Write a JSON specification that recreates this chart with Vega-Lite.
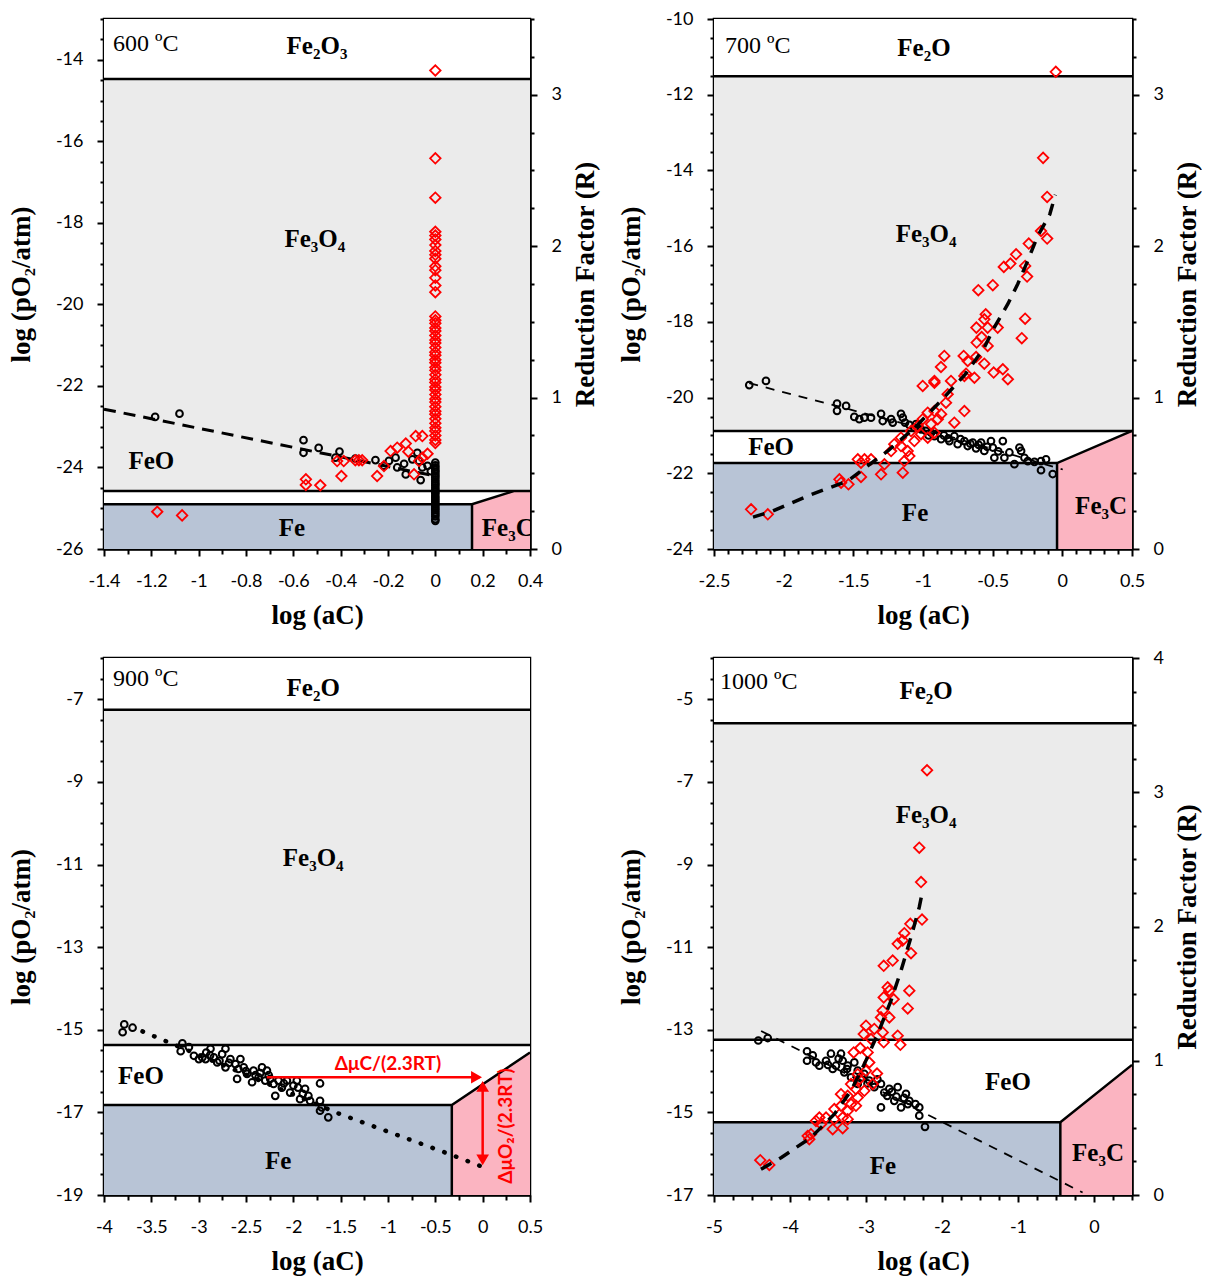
{
"$schema": "https://vega.github.io/schema/vega-lite/v6.json",
"background": "white",
"padding": {"left": 6, "top": 8, "right": 0, "bottom": 0},
"columns": 2,
"spacing": {"row": 109, "column": 184},
"bounds": "flush",
"datasets": {
"regions": [
{"p":1,"phase":"Fe2O3","x":-1.4,"x2":0.4,"y":-14.47,"y2":-13},
{"p":1,"phase":"Fe3O4","x":-1.4,"x2":0.4,"y":-24.58,"y2":-14.47},
{"p":1,"phase":"FeO","x":-1.4,"x2":0.4,"y":-26,"y2":-24.58},
{"p":1,"phase":"Fe","x":-1.4,"x2":0.155,"y":-26,"y2":-24.9},
{"p":2,"phase":"Fe2O3","x":-2.5,"x2":0.5,"y":-11.51,"y2":-10},
{"p":2,"phase":"Fe3O4","x":-2.5,"x2":0.5,"y":-20.88,"y2":-11.51},
{"p":2,"phase":"FeO","x":-2.5,"x2":0.5,"y":-24,"y2":-20.88},
{"p":2,"phase":"Fe","x":-2.5,"x2":-0.038,"y":-24,"y2":-21.73},
{"p":3,"phase":"Fe2O3","x":-4,"x2":0.5,"y":-7.25,"y2":-6},
{"p":3,"phase":"Fe3O4","x":-4,"x2":0.5,"y":-15.37,"y2":-7.25},
{"p":3,"phase":"FeO","x":-4,"x2":0.5,"y":-19,"y2":-15.37},
{"p":3,"phase":"Fe","x":-4,"x2":-0.326,"y":-19,"y2":-16.82},
{"p":4,"phase":"Fe2O3","x":-5,"x2":0.5,"y":-5.58,"y2":-4},
{"p":4,"phase":"Fe3O4","x":-5,"x2":0.5,"y":-13.24,"y2":-5.58},
{"p":4,"phase":"FeO","x":-5,"x2":0.5,"y":-17,"y2":-13.24},
{"p":4,"phase":"Fe","x":-5,"x2":-0.443,"y":-17,"y2":-15.24}
],
"fe3c": [
{"p":1,"x":0.155,"y":-24.9,"y2":-26},{"p":1,"x":0.33,"y":-24.58,"y2":-26},{"p":1,"x":0.4,"y":-24.58,"y2":-26},
{"p":2,"x":-0.038,"y":-21.73,"y2":-24},{"p":2,"x":0.5,"y":-20.88,"y2":-24},
{"p":3,"x":-0.326,"y":-16.82,"y2":-19},{"p":3,"x":0.5,"y":-15.55,"y2":-19},
{"p":4,"x":-0.443,"y":-15.24,"y2":-17},{"p":4,"x":0.5,"y":-13.85,"y2":-17}
],
"bounds": [
{"p":1,"seg":"a","o":1,"x":-1.4,"y":-14.47},{"p":1,"seg":"a","o":2,"x":0.4,"y":-14.47},
{"p":1,"seg":"b","o":1,"x":-1.4,"y":-24.58},{"p":1,"seg":"b","o":2,"x":0.4,"y":-24.58},
{"p":1,"seg":"c","o":1,"x":-1.4,"y":-24.9},{"p":1,"seg":"c","o":2,"x":0.155,"y":-24.9},{"p":1,"seg":"c","o":3,"x":0.33,"y":-24.58},
{"p":1,"seg":"d","o":1,"x":0.155,"y":-26},{"p":1,"seg":"d","o":2,"x":0.155,"y":-24.9},
{"p":2,"seg":"a","o":1,"x":-2.5,"y":-11.51},{"p":2,"seg":"a","o":2,"x":0.5,"y":-11.51},
{"p":2,"seg":"b","o":1,"x":-2.5,"y":-20.88},{"p":2,"seg":"b","o":2,"x":0.5,"y":-20.88},
{"p":2,"seg":"c","o":1,"x":-2.5,"y":-21.73},{"p":2,"seg":"c","o":2,"x":-0.038,"y":-21.73},{"p":2,"seg":"c","o":3,"x":0.5,"y":-20.88},
{"p":2,"seg":"d","o":1,"x":-0.038,"y":-24},{"p":2,"seg":"d","o":2,"x":-0.038,"y":-21.73},
{"p":3,"seg":"a","o":1,"x":-4,"y":-7.25},{"p":3,"seg":"a","o":2,"x":0.5,"y":-7.25},
{"p":3,"seg":"b","o":1,"x":-4,"y":-15.37},{"p":3,"seg":"b","o":2,"x":0.5,"y":-15.37},
{"p":3,"seg":"c","o":1,"x":-4,"y":-16.82},{"p":3,"seg":"c","o":2,"x":-0.326,"y":-16.82},{"p":3,"seg":"c","o":3,"x":0.5,"y":-15.55},
{"p":3,"seg":"d","o":1,"x":-0.326,"y":-19},{"p":3,"seg":"d","o":2,"x":-0.326,"y":-16.82},
{"p":4,"seg":"a","o":1,"x":-5,"y":-5.58},{"p":4,"seg":"a","o":2,"x":0.5,"y":-5.58},
{"p":4,"seg":"b","o":1,"x":-5,"y":-13.24},{"p":4,"seg":"b","o":2,"x":0.5,"y":-13.24},
{"p":4,"seg":"c","o":1,"x":-5,"y":-15.24},{"p":4,"seg":"c","o":2,"x":-0.443,"y":-15.24},{"p":4,"seg":"c","o":3,"x":0.5,"y":-13.85},
{"p":4,"seg":"d","o":1,"x":-0.443,"y":-17},{"p":4,"seg":"d","o":2,"x":-0.443,"y":-15.24}
],
"labels": [
{"p":1,"k":"phase","t":"Fe₂O₃","x":-0.5,"y":-13.66},
{"p":1,"k":"phase","t":"Fe₃O₄","x":-0.509,"y":-18.4},
{"p":1,"k":"phase","t":"FeO","x":-1.2,"y":-23.84},
{"p":1,"k":"phase","t":"Fe","x":-0.606,"y":-25.48},
{"p":1,"k":"phase","t":"Fe₃C","x":0.306,"y":-25.48},
{"p":1,"k":"temp","t":"600 ºC","x":-1.362,"y":-13.61},
{"p":2,"k":"phase","t":"Fe₂O","x":-0.993,"y":-10.77},
{"p":2,"k":"phase","t":"Fe₃O₄","x":-0.978,"y":-15.68},
{"p":2,"k":"phase","t":"FeO","x":-2.09,"y":-21.31},
{"p":2,"k":"phase","t":"Fe","x":-1.057,"y":-23.05},
{"p":2,"k":"phase","t":"Fe₃C","x":0.278,"y":-22.86},
{"p":2,"k":"temp","t":"700 ºC","x":-2.421,"y":-10.71},
{"p":3,"k":"phase","t":"Fe₂O","x":-1.79,"y":-6.72},
{"p":3,"k":"phase","t":"Fe₃O₄","x":-1.79,"y":-10.84},
{"p":3,"k":"phase","t":"FeO","x":-3.61,"y":-16.11},
{"p":3,"k":"phase","t":"Fe","x":-2.16,"y":-18.17},
{"p":3,"k":"temp","t":"900 ºC","x":-3.905,"y":-6.52},
{"p":4,"k":"phase","t":"Fe₂O","x":-2.21,"y":-4.81},
{"p":4,"k":"phase","t":"Fe₃O₄","x":-2.21,"y":-7.79},
{"p":4,"k":"phase","t":"FeO","x":-1.132,"y":-14.26},
{"p":4,"k":"phase","t":"Fe","x":-2.776,"y":-16.3},
{"p":4,"k":"phase","t":"Fe₃C","x":0.053,"y":-15.98},
{"p":4,"k":"temp","t":"1000 ºC","x":-4.921,"y":-4.59}
],
"fits": [
{"p":1,"x":-1.4,"y":-22.57},{"p":1,"x":0,"y":-24.21},
{"p":2,"x":-2.247,"y":-19.62},{"p":2,"x":-1.0,"y":-20.82},{"p":2,"x":0.003,"y":-21.9},
{"p":3,"x":-3.593,"y":-15.04},{"p":3,"x":-1.508,"y":-17.04},{"p":3,"x":-0.351,"y":-18.01},{"p":3,"x":0,"y":-18.32},
{"p":4,"x":-4.38,"y":-13.03},{"p":4,"x":-0.15,"y":-16.94}
],
"rfits": [
{"p":2,"x":-2.22,"r":0.21},{"p":2,"x":-2.08,"r":0.25},{"p":2,"x":-1.8,"r":0.36},{"p":2,"x":-1.54,"r":0.45},{"p":2,"x":-1.25,"r":0.65},{"p":2,"x":-1.06,"r":0.8},{"p":2,"x":-0.87,"r":0.98},{"p":2,"x":-0.7,"r":1.15},{"p":2,"x":-0.56,"r":1.33},{"p":2,"x":-0.49,"r":1.46},{"p":2,"x":-0.39,"r":1.62},{"p":2,"x":-0.32,"r":1.75},{"p":2,"x":-0.25,"r":1.9},{"p":2,"x":-0.18,"r":2.06},{"p":2,"x":-0.09,"r":2.21},{"p":2,"x":-0.05,"r":2.34},
{"p":4,"x":-4.382,"r":0.192},{"p":4,"x":-4.118,"r":0.278},{"p":4,"x":-3.724,"r":0.428},{"p":4,"x":-3.417,"r":0.602},{"p":4,"x":-3.197,"r":0.776},{"p":4,"x":-3.022,"r":0.975},{"p":4,"x":-2.846,"r":1.199},{"p":4,"x":-2.671,"r":1.448},{"p":4,"x":-2.539,"r":1.672},{"p":4,"x":-2.408,"r":1.92},{"p":4,"x":-2.299,"r":2.144},{"p":4,"x":-2.254,"r":2.269}
],
"black": [
{"p":1,"x":-1.184,"y":-22.76},{"p":1,"x":-1.081,"y":-22.68},{"p":1,"x":-0.557,"y":-23.33},{"p":1,"x":-0.557,"y":-23.64},{"p":1,"x":-0.493,"y":-23.52},{"p":1,"x":-0.405,"y":-23.61},{"p":1,"x":-0.422,"y":-23.76},{"p":1,"x":-0.338,"y":-23.78},{"p":1,"x":-0.253,"y":-23.82},{"p":1,"x":-0.217,"y":-23.96},{"p":1,"x":-0.196,"y":-23.84},{"p":1,"x":-0.168,"y":-23.76},{"p":1,"x":-0.161,"y":-24.0},{"p":1,"x":-0.132,"y":-23.91},{"p":1,"x":-0.125,"y":-24.17},{"p":1,"x":-0.097,"y":-23.8},{"p":1,"x":-0.076,"y":-23.64},{"p":1,"x":-0.069,"y":-23.84},{"p":1,"x":-0.062,"y":-24.31},{"p":1,"x":-0.055,"y":-24.0},{"p":1,"x":-0.033,"y":-23.96},{"p":1,"x":-0.019,"y":-24.09},
{"p":1,"x":0,"y":-23.88},{"p":1,"x":0,"y":-23.95},{"p":1,"x":0,"y":-24.0},{"p":1,"x":0,"y":-24.06},{"p":1,"x":0,"y":-24.1},{"p":1,"x":0,"y":-24.15},{"p":1,"x":0,"y":-24.2},{"p":1,"x":0,"y":-24.24},{"p":1,"x":0,"y":-24.3},{"p":1,"x":0,"y":-24.35},{"p":1,"x":0,"y":-24.4},{"p":1,"x":0,"y":-24.44},{"p":1,"x":0,"y":-24.5},{"p":1,"x":0,"y":-24.55},{"p":1,"x":0,"y":-24.6},{"p":1,"x":0,"y":-24.64},{"p":1,"x":0,"y":-24.7},{"p":1,"x":0,"y":-24.75},{"p":1,"x":0,"y":-24.8},{"p":1,"x":0,"y":-24.85},{"p":1,"x":0,"y":-24.9},{"p":1,"x":0,"y":-24.95},{"p":1,"x":0,"y":-25.0},{"p":1,"x":0,"y":-25.05},{"p":1,"x":0,"y":-25.1},{"p":1,"x":0,"y":-25.15},{"p":1,"x":0,"y":-25.2},{"p":1,"x":0,"y":-25.27},{"p":1,"x":0,"y":-25.31},
{"p":2,"x":-2.247,"y":-19.67},{"p":2,"x":-2.127,"y":-19.56},{"p":2,"x":-1.617,"y":-20.16},{"p":2,"x":-1.617,"y":-20.35},{"p":2,"x":-1.552,"y":-20.22},{"p":2,"x":-1.493,"y":-20.51},{"p":2,"x":-1.457,"y":-20.57},{"p":2,"x":-1.421,"y":-20.53},{"p":2,"x":-1.373,"y":-20.53},{"p":2,"x":-1.301,"y":-20.43},{"p":2,"x":-1.289,"y":-20.62},{"p":2,"x":-1.229,"y":-20.57},{"p":2,"x":-1.217,"y":-20.66},{"p":2,"x":-1.158,"y":-20.43},{"p":2,"x":-1.145,"y":-20.53},{"p":2,"x":-1.129,"y":-20.66},{"p":2,"x":-1.098,"y":-20.72},{"p":2,"x":-1.062,"y":-20.8},{"p":2,"x":-1.014,"y":-20.84},{"p":2,"x":-0.942,"y":-20.93},{"p":2,"x":-0.918,"y":-21.02},{"p":2,"x":-0.87,"y":-21.1},{"p":2,"x":-0.811,"y":-21.15},{"p":2,"x":-0.775,"y":-21.02},{"p":2,"x":-0.751,"y":-21.23},{"p":2,"x":-0.703,"y":-21.15},{"p":2,"x":-0.679,"y":-21.28},{"p":2,"x":-0.643,"y":-21.19},{"p":2,"x":-0.619,"y":-21.34},{"p":2,"x":-0.583,"y":-21.19},{"p":2,"x":-0.56,"y":-21.41},{"p":2,"x":-0.512,"y":-21.15},{"p":2,"x":-0.499,"y":-21.32},{"p":2,"x":-0.488,"y":-21.59},{"p":2,"x":-0.427,"y":-21.15},{"p":2,"x":-0.416,"y":-21.59},{"p":2,"x":-0.344,"y":-21.76},{"p":2,"x":-0.308,"y":-21.32},{"p":2,"x":-0.296,"y":-21.41},{"p":2,"x":-0.272,"y":-21.59},{"p":2,"x":-0.248,"y":-21.68},{"p":2,"x":-0.153,"y":-21.92},{"p":2,"x":-0.153,"y":-21.68},{"p":2,"x":-0.117,"y":-21.63},{"p":2,"x":-0.069,"y":-22.02},{"p":2,"x":-1.05,"y":-20.7},{"p":2,"x":-0.98,"y":-20.88},{"p":2,"x":-0.96,"y":-21.0},{"p":2,"x":-0.85,"y":-21.0},{"p":2,"x":-0.82,"y":-21.08},{"p":2,"x":-0.73,"y":-21.1},{"p":2,"x":-0.66,"y":-21.22},{"p":2,"x":-0.6,"y":-21.25},{"p":2,"x":-0.54,"y":-21.3},{"p":2,"x":-0.46,"y":-21.42},{"p":2,"x":-0.38,"y":-21.45},{"p":2,"x":-0.2,"y":-21.7},
{"p":3,"x":-3.803,"y":-15.06},{"p":3,"x":-3.698,"y":-14.95},{"p":3,"x":-3.786,"y":-14.87},{"p":3,"x":-3.172,"y":-15.33},{"p":3,"x":-3.19,"y":-15.52},{"p":3,"x":-3.103,"y":-15.42},{"p":3,"x":-3.05,"y":-15.63},{"p":3,"x":-2.998,"y":-15.71},{"p":3,"x":-2.962,"y":-15.67},{"p":3,"x":-2.927,"y":-15.71},{"p":3,"x":-2.875,"y":-15.46},{"p":3,"x":-2.84,"y":-15.67},{"p":3,"x":-2.804,"y":-15.79},{"p":3,"x":-2.752,"y":-15.59},{"p":3,"x":-2.717,"y":-15.46},{"p":3,"x":-2.717,"y":-15.91},{"p":3,"x":-2.665,"y":-15.71},{"p":3,"x":-2.612,"y":-15.83},{"p":3,"x":-2.594,"y":-16.19},{"p":3,"x":-2.559,"y":-15.71},{"p":3,"x":-2.524,"y":-15.91},{"p":3,"x":-2.489,"y":-16.07},{"p":3,"x":-2.436,"y":-16.27},{"p":3,"x":-2.42,"y":-15.99},{"p":3,"x":-2.367,"y":-16.15},{"p":3,"x":-2.331,"y":-15.91},{"p":3,"x":-2.297,"y":-16.23},{"p":3,"x":-2.279,"y":-15.99},{"p":3,"x":-2.244,"y":-16.19},{"p":3,"x":-2.209,"y":-16.31},{"p":3,"x":-2.191,"y":-16.6},{"p":3,"x":-2.157,"y":-16.23},{"p":3,"x":-2.121,"y":-16.4},{"p":3,"x":-2.068,"y":-16.23},{"p":3,"x":-2.034,"y":-16.52},{"p":3,"x":-1.999,"y":-16.35},{"p":3,"x":-1.963,"y":-16.23},{"p":3,"x":-1.929,"y":-16.68},{"p":3,"x":-1.876,"y":-16.43},{"p":3,"x":-1.841,"y":-16.6},{"p":3,"x":-1.823,"y":-16.72},{"p":3,"x":-1.718,"y":-16.3},{"p":3,"x":-1.718,"y":-16.72},{"p":3,"x":-1.718,"y":-16.96},{"p":3,"x":-1.7,"y":-16.88},{"p":3,"x":-1.631,"y":-17.12},{"p":3,"x":-2.78,"y":-15.75},{"p":3,"x":-2.68,"y":-15.8},{"p":3,"x":-2.58,"y":-15.95},{"p":3,"x":-2.5,"y":-16.0},{"p":3,"x":-2.4,"y":-16.1},{"p":3,"x":-2.35,"y":-16.05},{"p":3,"x":-2.26,"y":-16.1},{"p":3,"x":-2.1,"y":-16.3},{"p":3,"x":-1.95,"y":-16.4},{"p":3,"x":-1.9,"y":-16.55},{"p":3,"x":-2.92,"y":-15.55},{"p":3,"x":-2.88,"y":-15.62},
{"p":4,"x":-4.417,"y":-13.26},{"p":4,"x":-4.293,"y":-13.2},{"p":4,"x":-3.776,"y":-13.52},{"p":4,"x":-3.776,"y":-13.75},{"p":4,"x":-3.701,"y":-13.62},{"p":4,"x":-3.658,"y":-13.79},{"p":4,"x":-3.614,"y":-13.87},{"p":4,"x":-3.526,"y":-13.75},{"p":4,"x":-3.461,"y":-13.58},{"p":4,"x":-3.438,"y":-13.95},{"p":4,"x":-3.395,"y":-13.87},{"p":4,"x":-3.329,"y":-13.58},{"p":4,"x":-3.307,"y":-13.75},{"p":4,"x":-3.285,"y":-14.03},{"p":4,"x":-3.241,"y":-13.87},{"p":4,"x":-3.197,"y":-14.15},{"p":4,"x":-3.154,"y":-13.79},{"p":4,"x":-3.109,"y":-13.99},{"p":4,"x":-3.109,"y":-14.31},{"p":4,"x":-3.022,"y":-14.07},{"p":4,"x":-2.957,"y":-14.23},{"p":4,"x":-2.891,"y":-14.39},{"p":4,"x":-2.803,"y":-14.31},{"p":4,"x":-2.803,"y":-14.88},{"p":4,"x":-2.759,"y":-14.52},{"p":4,"x":-2.693,"y":-14.43},{"p":4,"x":-2.628,"y":-14.72},{"p":4,"x":-2.583,"y":-14.39},{"p":4,"x":-2.539,"y":-14.88},{"p":4,"x":-2.474,"y":-14.55},{"p":4,"x":-2.43,"y":-14.72},{"p":4,"x":-2.299,"y":-14.88},{"p":4,"x":-2.299,"y":-15.08},{"p":4,"x":-2.224,"y":-15.35},{"p":4,"x":-3.5,"y":-13.85},{"p":4,"x":-3.36,"y":-13.7},{"p":4,"x":-3.25,"y":-13.95},{"p":4,"x":-3.05,"y":-14.15},{"p":4,"x":-2.98,"y":-14.3},{"p":4,"x":-2.85,"y":-14.2},{"p":4,"x":-2.72,"y":-14.6},{"p":4,"x":-2.66,"y":-14.5},{"p":4,"x":-2.6,"y":-14.62},{"p":4,"x":-2.5,"y":-14.65},{"p":4,"x":-2.45,"y":-14.8},{"p":4,"x":-2.35,"y":-14.8}
],
"red": [
{"p":1,"x":-1.175,"r":0.246},{"p":1,"x":-1.07,"r":0.222},{"p":1,"x":-0.547,"r":0.46},{"p":1,"x":-0.547,"r":0.423},{"p":1,"x":-0.486,"r":0.421},{"p":1,"x":-0.415,"r":0.581},{"p":1,"x":-0.397,"r":0.482},{"p":1,"x":-0.387,"r":0.581},{"p":1,"x":-0.338,"r":0.586},{"p":1,"x":-0.323,"r":0.586},{"p":1,"x":-0.309,"r":0.586},{"p":1,"x":-0.246,"r":0.482},{"p":1,"x":-0.217,"r":0.548},{"p":1,"x":-0.189,"r":0.647},{"p":1,"x":-0.161,"r":0.669},{"p":1,"x":-0.125,"r":0.696},{"p":1,"x":-0.114,"r":0.643},{"p":1,"x":-0.083,"r":0.746},{"p":1,"x":-0.055,"r":0.746},{"p":1,"x":-0.09,"r":0.493},{"p":1,"x":-0.069,"r":0.581},{"p":1,"x":-0.055,"r":0.603},{"p":1,"x":-0.033,"r":0.629},
{"p":1,"x":0,"r":3.16},{"p":1,"x":0,"r":2.58},{"p":1,"x":0,"r":2.32},{"p":1,"x":0,"r":2.095},{"p":1,"x":0,"r":2.07},{"p":1,"x":0,"r":2.044},{"p":1,"x":0,"r":2.007},{"p":1,"x":0,"r":1.968},{"p":1,"x":0,"r":1.943},{"p":1,"x":0,"r":1.917},{"p":1,"x":0,"r":1.867},{"p":1,"x":0,"r":1.841},{"p":1,"x":0,"r":1.791},{"p":1,"x":0,"r":1.74},{"p":1,"x":0,"r":1.696},{"p":1,"x":0,"r":1.536},{"p":1,"x":0,"r":1.51},{"p":1,"x":0,"r":1.49},{"p":1,"x":0,"r":1.46},{"p":1,"x":0,"r":1.44},{"p":1,"x":0,"r":1.41},{"p":1,"x":0,"r":1.38},{"p":1,"x":0,"r":1.36},{"p":1,"x":0,"r":1.33},{"p":1,"x":0,"r":1.3},{"p":1,"x":0,"r":1.28},{"p":1,"x":0,"r":1.25},{"p":1,"x":0,"r":1.23},{"p":1,"x":0,"r":1.2},{"p":1,"x":0,"r":1.18},{"p":1,"x":0,"r":1.15},{"p":1,"x":0,"r":1.12},{"p":1,"x":0,"r":1.1},{"p":1,"x":0,"r":1.07},{"p":1,"x":0,"r":1.05},{"p":1,"x":0,"r":1.02},{"p":1,"x":0,"r":0.99},{"p":1,"x":0,"r":0.97},{"p":1,"x":0,"r":0.94},{"p":1,"x":0,"r":0.91},{"p":1,"x":0,"r":0.89},{"p":1,"x":0,"r":0.86},{"p":1,"x":0,"r":0.83},{"p":1,"x":0,"r":0.8},{"p":1,"x":0,"r":0.78},{"p":1,"x":0,"r":0.75},{"p":1,"x":0,"r":0.72},{"p":1,"x":0,"r":0.7},
{"p":2,"x":-0.047,"r":3.151},{"p":2,"x":-0.138,"r":2.583},{"p":2,"x":-0.109,"r":2.325},{"p":2,"x":-0.153,"r":2.1},{"p":2,"x":-0.109,"r":2.05},{"p":2,"x":-0.241,"r":2.017},{"p":2,"x":-0.332,"r":1.946},{"p":2,"x":-0.373,"r":1.885},{"p":2,"x":-0.42,"r":1.863},{"p":2,"x":-0.267,"r":1.869},{"p":2,"x":-0.253,"r":1.799},{"p":2,"x":-0.499,"r":1.742},{"p":2,"x":-0.603,"r":1.709},{"p":2,"x":-0.267,"r":1.521},{"p":2,"x":-0.291,"r":1.392},{"p":2,"x":-0.55,"r":1.55},{"p":2,"x":-0.56,"r":1.517},{"p":2,"x":-0.617,"r":1.462},{"p":2,"x":-0.536,"r":1.462},{"p":2,"x":-0.464,"r":1.462},{"p":2,"x":-0.579,"r":1.4},{"p":2,"x":-0.615,"r":1.363},{"p":2,"x":-0.536,"r":1.341},{"p":2,"x":-0.847,"r":1.275},{"p":2,"x":-0.871,"r":1.202},{"p":2,"x":-0.708,"r":1.275},{"p":2,"x":-0.679,"r":1.242},{"p":2,"x":-0.619,"r":1.268},{"p":2,"x":-0.56,"r":1.224},{"p":2,"x":-0.493,"r":1.165},{"p":2,"x":-0.427,"r":1.187},{"p":2,"x":-0.391,"r":1.121},{"p":2,"x":-0.691,"r":1.158},{"p":2,"x":-0.918,"r":1.11},{"p":2,"x":-0.799,"r":1.11},{"p":2,"x":-0.631,"r":1.131},{"p":2,"x":-0.703,"r":1.143},{"p":2,"x":-1.002,"r":1.077},{"p":2,"x":-0.918,"r":1.098},{"p":2,"x":-0.823,"r":1.022},{"p":2,"x":-0.835,"r":0.966},{"p":2,"x":-0.703,"r":0.911},{"p":2,"x":-0.775,"r":0.834},{"p":2,"x":-0.918,"r":0.911},{"p":2,"x":-0.966,"r":0.9},{"p":2,"x":-0.87,"r":0.89},{"p":2,"x":-1.002,"r":0.857},{"p":2,"x":-1.038,"r":0.812},{"p":2,"x":-0.942,"r":0.824},{"p":2,"x":-0.894,"r":0.857},{"p":2,"x":-1.086,"r":0.779},{"p":2,"x":-1.014,"r":0.758},{"p":2,"x":-1.062,"r":0.713},{"p":2,"x":-0.966,"r":0.735},{"p":2,"x":-0.918,"r":0.768},{"p":2,"x":-1.158,"r":0.735},{"p":2,"x":-1.206,"r":0.692},{"p":2,"x":-1.158,"r":0.68},{"p":2,"x":-1.229,"r":0.647},{"p":2,"x":-1.11,"r":0.647},{"p":2,"x":-1.098,"r":0.614},{"p":2,"x":-1.134,"r":0.581},{"p":2,"x":-1.145,"r":0.504},{"p":2,"x":-1.468,"r":0.592},{"p":2,"x":-1.42,"r":0.592},{"p":2,"x":-1.373,"r":0.592},{"p":2,"x":-1.445,"r":0.57},{"p":2,"x":-1.277,"r":0.559},{"p":2,"x":-1.301,"r":0.493},{"p":2,"x":-1.445,"r":0.476},{"p":2,"x":-1.6,"r":0.46},{"p":2,"x":-1.588,"r":0.438},{"p":2,"x":-1.535,"r":0.427},{"p":2,"x":-2.234,"r":0.262},{"p":2,"x":-2.114,"r":0.229},
{"p":4,"x":-2.197,"r":3.164},{"p":4,"x":-2.299,"r":2.587},{"p":4,"x":-2.276,"r":2.331},{"p":4,"x":-2.263,"r":2.052},{"p":4,"x":-2.417,"r":2.02},{"p":4,"x":-2.496,"r":1.95},{"p":4,"x":-2.583,"r":1.871},{"p":4,"x":-2.518,"r":1.896},{"p":4,"x":-2.408,"r":1.801},{"p":4,"x":-2.649,"r":1.746},{"p":4,"x":-2.767,"r":1.707},{"p":4,"x":-2.715,"r":1.547},{"p":4,"x":-2.693,"r":1.522},{"p":4,"x":-2.43,"r":1.522},{"p":4,"x":-2.767,"r":1.472},{"p":4,"x":-2.636,"r":1.458},{"p":4,"x":-2.451,"r":1.39},{"p":4,"x":-2.78,"r":1.373},{"p":4,"x":-2.693,"r":1.323},{"p":4,"x":-2.803,"r":1.323},{"p":4,"x":-3.0,"r":1.261},{"p":4,"x":-3.03,"r":1.199},{"p":4,"x":-2.891,"r":1.237},{"p":4,"x":-2.78,"r":1.211},{"p":4,"x":-2.583,"r":1.187},{"p":4,"x":-2.548,"r":1.119},{"p":4,"x":-2.767,"r":1.137},{"p":4,"x":-2.934,"r":1.162},{"p":4,"x":-3.075,"r":1.095},{"p":4,"x":-3.162,"r":1.062},{"p":4,"x":-2.978,"r":1.062},{"p":4,"x":-2.957,"r":0.987},{"p":4,"x":-3.0,"r":0.925},{"p":4,"x":-2.855,"r":0.905},{"p":4,"x":-3.109,"r":0.9},{"p":4,"x":-3.088,"r":0.863},{"p":4,"x":-3.197,"r":0.826},{"p":4,"x":-2.912,"r":0.826},{"p":4,"x":-3.022,"r":0.776},{"p":4,"x":-3.132,"r":0.789},{"p":4,"x":-3.241,"r":0.739},{"p":4,"x":-3.329,"r":0.751},{"p":4,"x":-3.109,"r":0.726},{"p":4,"x":-3.197,"r":0.677},{"p":4,"x":-3.329,"r":0.664},{"p":4,"x":-3.417,"r":0.64},{"p":4,"x":-3.241,"r":0.627},{"p":4,"x":-3.132,"r":0.664},{"p":4,"x":-3.526,"r":0.577},{"p":4,"x":-3.417,"r":0.565},{"p":4,"x":-3.307,"r":0.577},{"p":4,"x":-3.241,"r":0.565},{"p":4,"x":-3.614,"r":0.577},{"p":4,"x":-3.658,"r":0.552},{"p":4,"x":-3.592,"r":0.527},{"p":4,"x":-3.438,"r":0.49},{"p":4,"x":-3.307,"r":0.498},{"p":4,"x":-3.724,"r":0.453},{"p":4,"x":-3.767,"r":0.44},{"p":4,"x":-3.746,"r":0.416},{"p":4,"x":-4.391,"r":0.259},{"p":4,"x":-4.272,"r":0.224}
],
"annolines": [
{"seg":"h","x":-2.28,"y":-16.15},{"seg":"h","x":-0.03,"y":-16.15},
{"seg":"v","x":0,"y":-16.3},{"seg":"v","x":0,"y":-18.2}
],
"annoheads": [
{"dir":"right","x":-0.065,"y":-16.15},{"dir":"up","x":0,"y":-16.37},{"dir":"down","x":0,"y":-18.15}
],
"annotext": [
{"t":"ΔμC/(2.3RT)","x":-1.0,"y":-15.83,"rot":"h"},
{"t":"ΔμO₂/(2.3RT)","x":0.245,"y":-17.33,"rot":"v"}
]
},
"concat": [
{
"width": 426, "height": 530,
"encoding": {"x": {"field": "x", "type": "quantitative", "scale": {"domain": [-1.4, 0.4], "nice": false, "zero": false},
  "axis": {"title": "log (aC)", "values": [-1.4,-1.3,-1.2,-1.1,-1,-0.9,-0.8,-0.7,-0.6,-0.5,-0.4,-0.3,-0.2,-0.1,0,0.1,0.2,0.3,0.4],
   "labelExpr": "round(datum.value*10)%2==0 ? datum.value+'' : ''",
   "tickSize": {"condition": {"test": "round(datum.value*10)%2==0", "value": 7}, "value": 5}}}},
"layer": [
 {"encoding": {"y": {"field": "y", "type": "quantitative", "scale": {"domain": [-26, -13], "nice": false, "zero": false},
   "axis": {"title": "log (pO₂/atm)", "orient": "left", "values": [-26,-25.5,-25,-24.5,-24,-23.5,-23,-22.5,-22,-21.5,-21,-20.5,-20,-19.5,-19,-18.5,-18,-17.5,-17,-16.5,-16,-15.5,-15,-14.5,-14,-13.5,-13],
    "labelExpr": "round(datum.value*2)%4==0 ? datum.value+'' : ''",
    "tickSize": {"condition": {"test": "round(datum.value*2)%4==0", "value": 7}, "value": 4}}}},
  "layer": [
   {"data": {"name": "regions"}, "transform": [{"filter": "datum.p==1"}], "mark": {"type": "rect"},
    "encoding": {"x2": {"field": "x2"}, "y2": {"field": "y2"}, "color": {"field": "phase", "type": "nominal", "scale": {"domain": ["Fe2O3","Fe3O4","FeO","Fe"], "range": ["#ffffff","#ebebeb","#ffffff","#b8c4d6"]}, "legend": null}}},
   {"data": {"name": "fe3c"}, "transform": [{"filter": "datum.p==1"}], "mark": {"type": "area", "color": "#fbb4c1", "opacity": 1}, "encoding": {"y2": {"field": "y2"}}},
   {"data": {"name": "bounds"}, "transform": [{"filter": "datum.p==1"}], "mark": {"type": "line", "color": "black", "strokeWidth": 2.5}, "encoding": {"detail": {"field": "seg"}, "order": {"field": "o"}}},
   {"data": {"name": "fits"}, "transform": [{"filter": "datum.p==1"}], "mark": {"type": "line", "color": "black", "strokeWidth": 3, "strokeDash": [12, 8]}, "encoding": {}},
   {"data": {"name": "black"}, "transform": [{"filter": "datum.p==1"}], "mark": {"type": "point", "shape": "circle", "filled": false, "color": "black", "strokeWidth": 2, "size": 45, "opacity": 1}},
   {"data": {"name": "labels"}, "transform": [{"filter": "datum.p==1 && datum.k=='phase'"}], "mark": {"type": "text", "font": "Liberation Serif", "fontWeight": "bold", "fontSize": 25, "color": "black", "clip": true}, "encoding": {"text": {"field": "t"}}},
   {"data": {"name": "labels"}, "transform": [{"filter": "datum.p==1 && datum.k=='temp'"}], "mark": {"type": "text", "font": "Liberation Serif", "fontSize": 24, "align": "left", "color": "black"}, "encoding": {"text": {"field": "t"}}}
  ]},
 {"encoding": {"y": {"field": "r", "type": "quantitative", "scale": {"domain": [0, 3.5], "nice": false, "zero": false},
   "axis": {"title": "Reduction Factor (R)", "orient": "right", "titleAngle": 270, "titleBaseline": "top", "titlePadding": 11, "values": [0,0.25,0.5,0.75,1,1.25,1.5,1.75,2,2.25,2.5,2.75,3,3.25,3.5],
    "labelExpr": "round(datum.value*4)%4==0 ? datum.value+'' : ''",
    "tickSize": {"condition": {"test": "round(datum.value*4)%4==0", "value": 7}, "value": 4}}}},
  "layer": [
   {"data": {"name": "red"}, "transform": [{"filter": "datum.p==1"}], "mark": {"type": "point", "shape": "diamond", "filled": false, "color": "#ff0000", "strokeWidth": 1.8, "size": 110, "opacity": 1}}
  ]}
],
"resolve": {"scale": {"y": "independent"}}
},
{
"width": 418, "height": 530,
"encoding": {"x": {"field": "x", "type": "quantitative", "scale": {"domain": [-2.5, 0.5], "nice": false, "zero": false},
  "axis": {"title": "log (aC)", "values": [-2.5,-2.4,-2.3,-2.2,-2.1,-2,-1.9,-1.8,-1.7,-1.6,-1.5,-1.4,-1.3,-1.2,-1.1,-1,-0.9,-0.8,-0.7,-0.6,-0.5,-0.4,-0.3,-0.2,-0.1,0,0.1,0.2,0.3,0.4,0.5],
   "labelExpr": "round(datum.value*10)%5==0 ? datum.value+'' : ''",
   "tickSize": {"condition": {"test": "round(datum.value*10)%5==0", "value": 7}, "value": 5}}}},
"layer": [
 {"encoding": {"y": {"field": "y", "type": "quantitative", "scale": {"domain": [-24, -10], "nice": false, "zero": false},
   "axis": {"title": "log (pO₂/atm)", "orient": "left", "values": [-24,-23.5,-23,-22.5,-22,-21.5,-21,-20.5,-20,-19.5,-19,-18.5,-18,-17.5,-17,-16.5,-16,-15.5,-15,-14.5,-14,-13.5,-13,-12.5,-12,-11.5,-11,-10.5,-10],
    "labelExpr": "round(datum.value*2)%4==0 ? datum.value+'' : ''",
    "tickSize": {"condition": {"test": "round(datum.value*2)%4==0", "value": 7}, "value": 4}}}},
  "layer": [
   {"data": {"name": "regions"}, "transform": [{"filter": "datum.p==2"}], "mark": {"type": "rect"},
    "encoding": {"x2": {"field": "x2"}, "y2": {"field": "y2"}, "color": {"field": "phase", "type": "nominal", "scale": {"domain": ["Fe2O3","Fe3O4","FeO","Fe"], "range": ["#ffffff","#ebebeb","#ffffff","#b8c4d6"]}, "legend": null}}},
   {"data": {"name": "fe3c"}, "transform": [{"filter": "datum.p==2"}], "mark": {"type": "area", "color": "#fbb4c1", "opacity": 1}, "encoding": {"y2": {"field": "y2"}}},
   {"data": {"name": "bounds"}, "transform": [{"filter": "datum.p==2"}], "mark": {"type": "line", "color": "black", "strokeWidth": 2.5}, "encoding": {"detail": {"field": "seg"}, "order": {"field": "o"}}},
   {"data": {"name": "fits"}, "transform": [{"filter": "datum.p==2"}], "mark": {"type": "line", "color": "black", "strokeWidth": 1.8, "strokeDash": [9, 8]}, "encoding": {}},
   {"data": {"name": "black"}, "transform": [{"filter": "datum.p==2"}], "mark": {"type": "point", "shape": "circle", "filled": false, "color": "black", "strokeWidth": 2, "size": 45, "opacity": 1}},
   {"data": {"name": "labels"}, "transform": [{"filter": "datum.p==2 && datum.k=='phase'"}], "mark": {"type": "text", "font": "Liberation Serif", "fontWeight": "bold", "fontSize": 25, "color": "black", "clip": true}, "encoding": {"text": {"field": "t"}}},
   {"data": {"name": "labels"}, "transform": [{"filter": "datum.p==2 && datum.k=='temp'"}], "mark": {"type": "text", "font": "Liberation Serif", "fontSize": 24, "align": "left", "color": "black"}, "encoding": {"text": {"field": "t"}}}
  ]},
 {"encoding": {"y": {"field": "r", "type": "quantitative", "scale": {"domain": [0, 3.5], "nice": false, "zero": false},
   "axis": {"title": "Reduction Factor (R)", "orient": "right", "titleAngle": 270, "titleBaseline": "top", "titlePadding": 11, "values": [0,0.25,0.5,0.75,1,1.25,1.5,1.75,2,2.25,2.5,2.75,3,3.25,3.5],
    "labelExpr": "round(datum.value*4)%4==0 ? datum.value+'' : ''",
    "tickSize": {"condition": {"test": "round(datum.value*4)%4==0", "value": 7}, "value": 4}}}},
  "layer": [
   {"data": {"name": "red"}, "transform": [{"filter": "datum.p==2"}], "mark": {"type": "point", "shape": "diamond", "filled": false, "color": "#ff0000", "strokeWidth": 1.8, "size": 110, "opacity": 1}},
   {"data": {"name": "rfits"}, "transform": [{"filter": "datum.p==2"}], "mark": {"type": "line", "color": "black", "strokeWidth": 3.5, "strokeDash": [12, 9]}, "encoding": {}}
  ]}
],
"resolve": {"scale": {"y": "independent"}}
},
{
"width": 426, "height": 537,
"encoding": {"x": {"field": "x", "type": "quantitative", "scale": {"domain": [-4, 0.5], "nice": false, "zero": false},
  "axis": {"title": "log (aC)", "values": [-4,-3.75,-3.5,-3.25,-3,-2.75,-2.5,-2.25,-2,-1.75,-1.5,-1.25,-1,-0.75,-0.5,-0.25,0,0.25,0.5],
   "labelExpr": "round(datum.value*4)%2==0 ? datum.value+'' : ''",
   "tickSize": {"condition": {"test": "round(datum.value*4)%2==0", "value": 7}, "value": 5}}},
 "y": {"field": "y", "type": "quantitative", "scale": {"domain": [-19, -6], "nice": false, "zero": false},
   "axis": {"title": "log (pO₂/atm)", "orient": "left", "values": [-19,-18.5,-18,-17.5,-17,-16.5,-16,-15.5,-15,-14.5,-14,-13.5,-13,-12.5,-12,-11.5,-11,-10.5,-10,-9.5,-9,-8.5,-8,-7.5,-7,-6.5,-6],
    "labelExpr": "abs(round(datum.value*2)%4)==2 ? datum.value+'' : ''",
    "tickSize": {"condition": {"test": "abs(round(datum.value*2)%4)==2", "value": 7}, "value": 4}}}},
"layer": [
   {"data": {"name": "regions"}, "transform": [{"filter": "datum.p==3"}], "mark": {"type": "rect"},
    "encoding": {"x2": {"field": "x2"}, "y2": {"field": "y2"}, "color": {"field": "phase", "type": "nominal", "scale": {"domain": ["Fe2O3","Fe3O4","FeO","Fe"], "range": ["#ffffff","#ebebeb","#ffffff","#b8c4d6"]}, "legend": null}}},
   {"data": {"name": "fe3c"}, "transform": [{"filter": "datum.p==3"}], "mark": {"type": "area", "color": "#fbb4c1", "opacity": 1}, "encoding": {"y2": {"field": "y2"}}},
   {"data": {"name": "bounds"}, "transform": [{"filter": "datum.p==3"}], "mark": {"type": "line", "color": "black", "strokeWidth": 2.5}, "encoding": {"detail": {"field": "seg"}, "order": {"field": "o"}}},
   {"data": {"name": "fits"}, "transform": [{"filter": "datum.p==3"}], "mark": {"type": "line", "color": "black", "strokeWidth": 4.5, "strokeCap": "round", "strokeDash": [0.5, 12]}, "encoding": {}},
   {"data": {"name": "black"}, "transform": [{"filter": "datum.p==3"}], "mark": {"type": "point", "shape": "circle", "filled": false, "color": "black", "strokeWidth": 2, "size": 45, "opacity": 1}},
   {"data": {"name": "annolines"}, "mark": {"type": "line", "color": "#ff0000", "strokeWidth": 2.5}, "encoding": {"detail": {"field": "seg"}, "order": {"field": "y"}}},
   {"data": {"name": "annoheads"}, "mark": {"type": "point", "filled": true, "color": "#ff0000", "size": 160, "opacity": 1},
    "encoding": {"shape": {"field": "dir", "type": "nominal", "scale": {"domain": ["right","up","down"], "range": ["triangle-right","triangle-up","triangle-down"]}, "legend": null}}},
   {"data": {"name": "annotext"}, "transform": [{"filter": "datum.rot=='h'"}], "mark": {"type": "text", "font": "Lato", "fontWeight": "bold", "fontSize": 19, "color": "#ff0000"}, "encoding": {"text": {"field": "t"}}},
   {"data": {"name": "annotext"}, "transform": [{"filter": "datum.rot=='v'"}], "mark": {"type": "text", "font": "Lato", "fontWeight": "bold", "fontSize": 19, "color": "#ff0000", "angle": 270}, "encoding": {"text": {"field": "t"}}},
   {"data": {"name": "labels"}, "transform": [{"filter": "datum.p==3 && datum.k=='phase'"}], "mark": {"type": "text", "font": "Liberation Serif", "fontWeight": "bold", "fontSize": 25, "color": "black", "clip": true}, "encoding": {"text": {"field": "t"}}},
   {"data": {"name": "labels"}, "transform": [{"filter": "datum.p==3 && datum.k=='temp'"}], "mark": {"type": "text", "font": "Liberation Serif", "fontSize": 24, "align": "left", "color": "black"}, "encoding": {"text": {"field": "t"}}}
]
},
{
"width": 418, "height": 537,
"encoding": {"x": {"field": "x", "type": "quantitative", "scale": {"domain": [-5, 0.5], "nice": false, "zero": false},
  "axis": {"title": "log (aC)", "values": [-5,-4.75,-4.5,-4.25,-4,-3.75,-3.5,-3.25,-3,-2.75,-2.5,-2.25,-2,-1.75,-1.5,-1.25,-1,-0.75,-0.5,-0.25,0,0.25,0.5],
   "labelExpr": "round(datum.value*4)%4==0 ? datum.value+'' : ''",
   "tickSize": {"condition": {"test": "round(datum.value*4)%4==0", "value": 7}, "value": 5}}}},
"layer": [
 {"encoding": {"y": {"field": "y", "type": "quantitative", "scale": {"domain": [-17, -4], "nice": false, "zero": false},
   "axis": {"title": "log (pO₂/atm)", "orient": "left", "values": [-17,-16.5,-16,-15.5,-15,-14.5,-14,-13.5,-13,-12.5,-12,-11.5,-11,-10.5,-10,-9.5,-9,-8.5,-8,-7.5,-7,-6.5,-6,-5.5,-5,-4.5,-4],
    "labelExpr": "abs(round(datum.value*2)%4)==2 ? datum.value+'' : ''",
    "tickSize": {"condition": {"test": "abs(round(datum.value*2)%4)==2", "value": 7}, "value": 4}}}},
  "layer": [
   {"data": {"name": "regions"}, "transform": [{"filter": "datum.p==4"}], "mark": {"type": "rect"},
    "encoding": {"x2": {"field": "x2"}, "y2": {"field": "y2"}, "color": {"field": "phase", "type": "nominal", "scale": {"domain": ["Fe2O3","Fe3O4","FeO","Fe"], "range": ["#ffffff","#ebebeb","#ffffff","#b8c4d6"]}, "legend": null}}},
   {"data": {"name": "fe3c"}, "transform": [{"filter": "datum.p==4"}], "mark": {"type": "area", "color": "#fbb4c1", "opacity": 1}, "encoding": {"y2": {"field": "y2"}}},
   {"data": {"name": "bounds"}, "transform": [{"filter": "datum.p==4"}], "mark": {"type": "line", "color": "black", "strokeWidth": 2.5}, "encoding": {"detail": {"field": "seg"}, "order": {"field": "o"}}},
   {"data": {"name": "fits"}, "transform": [{"filter": "datum.p==4"}], "mark": {"type": "line", "color": "black", "strokeWidth": 1.8, "strokeDash": [9, 8], "clip": true}, "encoding": {}},
   {"data": {"name": "black"}, "transform": [{"filter": "datum.p==4"}], "mark": {"type": "point", "shape": "circle", "filled": false, "color": "black", "strokeWidth": 2, "size": 45, "opacity": 1}},
   {"data": {"name": "labels"}, "transform": [{"filter": "datum.p==4 && datum.k=='phase'"}], "mark": {"type": "text", "font": "Liberation Serif", "fontWeight": "bold", "fontSize": 25, "color": "black", "clip": true}, "encoding": {"text": {"field": "t"}}},
   {"data": {"name": "labels"}, "transform": [{"filter": "datum.p==4 && datum.k=='temp'"}], "mark": {"type": "text", "font": "Liberation Serif", "fontSize": 24, "align": "left", "color": "black"}, "encoding": {"text": {"field": "t"}}}
  ]},
 {"encoding": {"y": {"field": "r", "type": "quantitative", "scale": {"domain": [0, 4], "nice": false, "zero": false},
   "axis": {"title": "Reduction Factor (R)", "orient": "right", "titleAngle": 270, "titleBaseline": "top", "titlePadding": 11, "values": [0,0.25,0.5,0.75,1,1.25,1.5,1.75,2,2.25,2.5,2.75,3,3.25,3.5,3.75,4],
    "labelExpr": "round(datum.value*4)%4==0 ? datum.value+'' : ''",
    "tickSize": {"condition": {"test": "round(datum.value*4)%4==0", "value": 7}, "value": 4}}}},
  "layer": [
   {"data": {"name": "red"}, "transform": [{"filter": "datum.p==4"}], "mark": {"type": "point", "shape": "diamond", "filled": false, "color": "#ff0000", "strokeWidth": 1.8, "size": 110, "opacity": 1}},
   {"data": {"name": "rfits"}, "transform": [{"filter": "datum.p==4"}], "mark": {"type": "line", "color": "black", "strokeWidth": 3.5, "strokeDash": [12, 9]}, "encoding": {}}
  ]}
],
"resolve": {"scale": {"y": "independent"}}
}
],
"config": {
 "view": {"stroke": "black", "strokeWidth": 2.5},
 "axis": {"grid": false, "domainColor": "black", "domainWidth": 2.5, "tickColor": "black", "tickWidth": 2,
  "labelFont": "Lato", "labelFontSize": 18, "labelColor": "black", "labelPadding": 14, "labelOverlap": false, "labelFlush": false,
  "titleFont": "Liberation Serif", "titleFontSize": 27, "titleFontWeight": "bold", "titleColor": "black", "titlePadding": 12},
 "axisX": {"labelPadding": 16, "titlePadding": 12},
 "axisLeft": {"titlePadding": 20}
}
}
